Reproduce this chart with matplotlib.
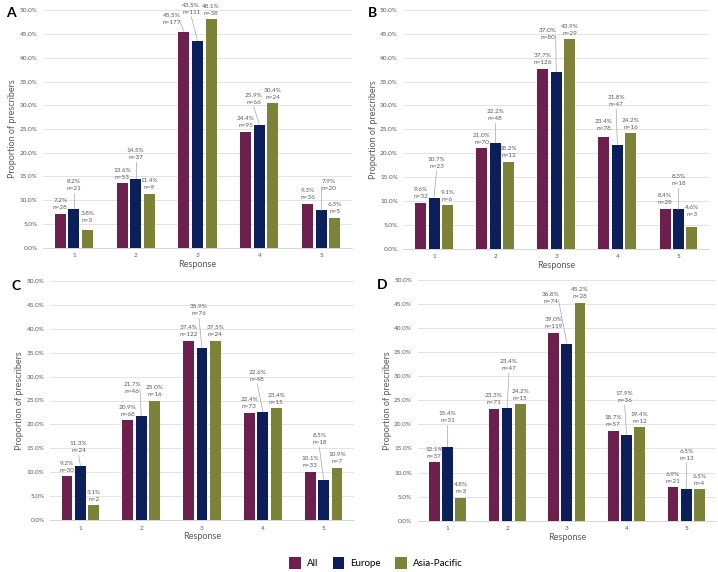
import matplotlib
matplotlib.use("Agg")
import matplotlib.pyplot as plt
from matplotlib.patches import Patch
from matplotlib.ticker import PercentFormatter

plt.rcParams['font.family'] = ['Lato', 'DejaVu Sans']

responses = [1, 2, 3, 4, 5]
series_names = ['All', 'Europe', 'Asia-Pacific']
colors = ['#6d1f4e', '#0b1f5c', '#7c8236']

# percentages per series (All, Europe, Asia-Pacific)
pct_A = [[7.2, 13.6, 45.5, 24.4, 9.3],
         [8.2, 14.5, 43.5, 25.9, 7.9],
         [3.8, 11.4, 48.1, 30.4, 6.3]]
n_A = [[28, 53, 177, 95, 36],
       [21, 37, 111, 66, 20],
       [3, 9, 38, 24, 5]]

pct_B = [[9.6, 21.0, 37.7, 23.4, 8.4],
         [10.7, 22.2, 37.0, 21.8, 8.3],
         [9.1, 18.2, 43.9, 24.2, 4.6]]
n_B = [[32, 70, 126, 78, 28],
       [23, 48, 80, 47, 18],
       [6, 12, 29, 16, 3]]

pct_C = [[9.2, 20.9, 37.4, 22.4, 10.1],
         [11.3, 21.7, 35.9, 22.6, 8.5],
         [3.1, 25.0, 37.5, 23.4, 10.9]]
n_C = [[30, 68, 122, 73, 33],
       [24, 46, 76, 48, 18],
       [2, 16, 24, 15, 7]]

pct_D = [[12.1, 23.3, 39.0, 18.7, 6.9],
         [15.4, 23.4, 36.8, 17.9, 6.5],
         [4.8, 24.2, 45.2, 19.4, 6.5]]
n_D = [[37, 71, 119, 57, 21],
       [31, 47, 74, 36, 13],
       [3, 15, 28, 12, 4]]

# label offsets that differ from the default (series index, response) -> (dx, dy)
moved_A = {(1, 1): (0, 5.0), (2, 1): (0, 2.6), (1, 2): (0, 5.2), (0, 3): (-0.2, 2.6),
           (1, 3): (-0.1, 6.8), (1, 4): (-0.09, 5.5), (1, 5): (0.13, 5.4)}
moved_B = {(1, 1): (0.04, 7.2), (1, 2): (0, 5.9), (1, 3): (-0.14, 8.0),
           (1, 4): (-0.02, 9.2), (1, 5): (0, 6.1), (2, 5): (0, 3.3), (0, 4): (0, 2.6)}
moved_C = {(1, 1): (-0.03, 4.0), (1, 2): (-0.15, 6.0), (1, 3): (-0.05, 7.9),
           (1, 4): (-0.09, 7.6), (1, 5): (-0.07, 8.4)}
moved_D = {(1, 1): (0, 6.1), (1, 2): (0.03, 9.0), (1, 3): (-0.27, 9.4),
           (1, 4): (-0.03, 7.8), (1, 5): (0.01, 7.2)}

W, H = 718, 572
fig = plt.figure(figsize=(W / 100, H / 100), dpi=100)

# axes boxes in pixels: left, top, right, bottom
boxes = {'A': (43, 10.3, 352, 247.7),
         'B': (403.5, 10, 709, 248.7),
         'C': (50, 280.7, 354, 520.3),
         'D': (417.6, 280, 716, 520.7)}
letters_xy = {'A': (6, 7), 'B': (368, 7), 'C': (12, 280), 'D': (377, 279)}
panels = {'A': (pct_A, n_A, moved_A), 'B': (pct_B, n_B, moved_B),
          'C': (pct_C, n_C, moved_C), 'D': (pct_D, n_D, moved_D)}

offsets = [-0.22, 0, 0.22]
grey_txt = '#595959'

for key, (pcts, ns, moved) in panels.items():
    l, t, r, b = boxes[key]
    ax = fig.add_axes([l / W, 1 - b / H, (r - l) / W, (b - t) / H])
    for s in range(3):
        xs = [x + offsets[s] for x in responses]
        ax.bar(xs, pcts[s], width=0.18, color=colors[s], zorder=2)
        for i, x in enumerate(xs):
            v = pcts[s][i]
            dx, dy = moved.get((s, responses[i]), (0, 2.0))
            lx, ly = x + dx, v + dy
            ax.text(lx, ly, f'{v:.1f}%\nn={ns[s][i]}', ha='center', va='center',
                    fontsize=4.6, color=grey_txt, linespacing=1.5, clip_on=False, zorder=4)
            if dy > 3.8 or abs(dx) > 0.12:
                if abs(dx) > 0.12:
                    sx, sy = lx + (0.13 if dx < 0 else -0.13), ly - 0.3
                else:
                    sx, sy = lx, ly - 1.7
                ax.plot([sx, x], [sy, v + 0.1], color='#a6a6a6', lw=0.5,
                        clip_on=False, zorder=3)
    ax.set_xlim(0.5, 5.5)
    ax.set_ylim(0, 50)
    ax.set_yticks(range(0, 51, 5))
    ax.yaxis.set_major_formatter(PercentFormatter(decimals=1))
    ax.set_xticks(responses)
    ax.tick_params(length=0, labelsize=4.6, labelcolor=grey_txt, pad=4)
    ax.grid(axis='y', color='#dedede', lw=0.6, zorder=0)
    ax.set_axisbelow(True)
    for sp in ['top', 'right', 'left']:
        ax.spines[sp].set_visible(False)
    ax.spines['bottom'].set_color('#d0d0d0')
    ax.spines['bottom'].set_linewidth(0.6)
    ax.set_xlabel('Response', fontsize=6.5, color=grey_txt, labelpad=1)
    ax.set_ylabel('Proportion of prescribers', fontsize=6.5, color=grey_txt, labelpad=1.5)
    lx, ly = letters_xy[key]
    fig.text(lx / W, 1 - ly / H, key, fontsize=10, fontweight='bold', va='top', ha='left')

handles = [Patch(facecolor=c, label=nm) for c, nm in zip(colors, series_names)]
fig.legend(handles=handles, loc='center', bbox_to_anchor=(376 / W, 1 - 563 / H), ncol=3,
           frameon=False, fontsize=7, handlelength=1.2, handleheight=1.6,
           columnspacing=1.5, handletextpad=0.6)

fig.savefig('out.png', dpi=100)
